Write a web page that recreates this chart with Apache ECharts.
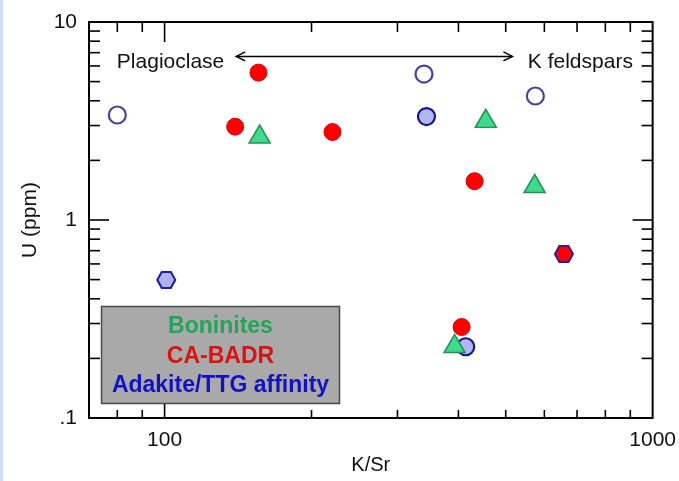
<!DOCTYPE html>
<html>
<head>
<meta charset="utf-8">
<script src="https://cdn.jsdelivr.net/npm/echarts@6/dist/echarts.min.js"></script>
<style>
  html, body { margin: 0; padding: 0; background: #ffffff; }
  #chart { position: absolute; left: 0; top: 0; width: 679px; height: 481px; }
  #band { position: absolute; left: 0; top: 0; width: 3px; height: 481px; background: #d3dff6; }
</style>
</head>
<body>
<div id="chart"></div>
<div id="band"></div>
<script>
// K/Sr (x) versus U in ppm (y), both on log scales
const boninites      = [[156.6, 2.72], [455, 3.26], [573, 1.53], [392.8, 0.238]];
const caBadr         = [[155.7, 5.55], [139.5, 2.96], [220.8, 2.78], [431.7, 1.57], [406, 0.288]];
const caBadrHex      = [[658, 0.673]];
const adakiteOpen    = [[80, 3.39], [340, 5.46], [575, 4.23]];
const adakiteFilled  = [[344, 3.33], [414, 0.229]];
const adakiteHex     = [[100.8, 0.498]];

// axis ranges and tick values
const xRange = [70, 1000];
const yRange = [0.1, 10];
const xMajorTicks = [100];
const xMinorTicks = [80, 90, 200, 300, 400, 500, 600, 700, 800, 900];
const yMajorTicks = [1];
const yMinorTicks = [0.2, 0.3, 0.4, 0.5, 0.6, 0.7, 0.8, 0.9, 2, 3, 4, 5, 6, 7, 8, 9];
const xTickValues = [100, 1000];
const xTickTexts  = ['100', '1000'];
const yTickValues = [0.1, 1, 10];
const yTickTexts  = ['.1', '1', '10'];

// legend lines and annotation
const legendNames  = ['Boninites', 'CA-BADR', 'Adakite/TTG affinity'];
const legendColors = ['#22a55a', '#dd1111', '#1212c4'];
const arrowFrom = [140.2, 6.7];
const arrowTo   = [516, 6.7];
const leftNote  = { text: 'Plagioclase', at: [132.5, 6.28] };
const rightNote = { text: 'K feldspars', at: [555, 6.28] };

const FONT = '"Liberation Sans", Arial, sans-serif';
const HEX = 'path://M0,8.66 L5,0 L15,0 L20,8.66 L15,17.32 L5,17.32 Z';

function pickLabel(values, texts) {
  return function (v) {
    for (let i = 0; i < values.length; i++) {
      if (Math.abs(v - values[i]) / values[i] < 1e-6) return texts[i];
    }
    return '';
  };
}

// tick marks: [value, value, kind (0 = x, 1 = y), major flag]
const tickData = []
  .concat(xMajorTicks.map(v => [v, 1, 0, 1]))
  .concat(xMinorTicks.map(v => [v, 1, 0, 0]))
  .concat(yMajorTicks.map(v => [100, v, 1, 1]))
  .concat(yMinorTicks.map(v => [100, v, 1, 0]));

function renderTick(params, api) {
  const cs = params.coordSys;
  const kind = api.value(2);
  const major = api.value(3) === 1;
  const p = api.coord([api.value(0), api.value(1)]);
  const style = { stroke: '#000', lineWidth: 1.6 };
  const kids = [];
  if (kind === 0) {
    const x = p[0];
    const lb = major ? 14 : 8, lt = major ? 20 : 10;
    kids.push({ type: 'line', shape: { x1: x, y1: cs.y + cs.height, x2: x, y2: cs.y + cs.height - lb }, style });
    kids.push({ type: 'line', shape: { x1: x, y1: cs.y, x2: x, y2: cs.y + lt }, style });
  } else {
    const y = p[1];
    const l = major ? 20 : 11;
    kids.push({ type: 'line', shape: { x1: cs.x, y1: y, x2: cs.x + l, y2: y }, style });
    kids.push({ type: 'line', shape: { x1: cs.x + cs.width, y1: y, x2: cs.x + cs.width - l, y2: y }, style });
  }
  return { type: 'group', children: kids };
}

const chart = echarts.init(document.getElementById('chart'), null, { renderer: 'canvas' });

chart.setOption({
  animation: false,
  backgroundColor: '#ffffff',
  textStyle: { fontFamily: FONT },
  grid: {
    left: 89, right: 23, top: 22, bottom: 63,
    show: true, borderColor: '#000', borderWidth: 2, backgroundColor: 'rgba(0,0,0,0)'
  },
  xAxis: {
    type: 'log', logBase: 10, min: xRange[0], max: xRange[1],
    axisLine: { show: false }, axisTick: { show: false }, splitLine: { show: false },
    axisLabel: { formatter: pickLabel(xTickValues, xTickTexts), fontSize: 21, color: '#111', margin: 12, fontFamily: FONT },
    name: 'K/Sr', nameLocation: 'middle', nameGap: 37,
    nameTextStyle: { fontSize: 20, color: '#111', fontFamily: FONT }
  },
  yAxis: {
    type: 'log', logBase: 10, min: yRange[0], max: yRange[1],
    axisLine: { show: false }, axisTick: { show: false }, splitLine: { show: false },
    axisLabel: { formatter: pickLabel(yTickValues, yTickTexts), fontSize: 21, color: '#111', margin: 12, fontFamily: FONT },
    name: 'U (ppm)', nameLocation: 'middle', nameGap: 48, nameRotate: 90,
    nameTextStyle: { fontSize: 21, color: '#111', fontFamily: FONT }
  },
  series: [
    {
      type: 'custom', name: 'ticks', data: tickData, renderItem: renderTick,
      clip: false, silent: true, z: 5
    },
    {
      type: 'scatter', name: 'Adakite/TTG affinity', data: adakiteOpen,
      symbol: 'circle', symbolSize: 17, z: 2,
      itemStyle: { color: 'rgba(255,255,255,0)', borderColor: '#14148e', borderWidth: 2.2 }
    },
    {
      type: 'scatter', name: 'Adakite/TTG affinity (filled)', data: adakiteFilled,
      symbol: 'circle', symbolSize: 17, z: 2,
      itemStyle: { color: '#b4b7ef', borderColor: '#14148e', borderWidth: 2.2, opacity: 1 }
    },
    {
      type: 'scatter', name: 'Adakite/TTG affinity (hexagon)', data: adakiteHex,
      symbol: HEX, symbolSize: [18, 16], z: 2,
      itemStyle: { color: '#aeb2f2', borderColor: '#1e1ea0', borderWidth: 2, opacity: 1 }
    },
    {
      type: 'scatter', name: 'Boninites', data: boninites,
      symbol: 'triangle', symbolSize: [21, 18], z: 3,
      itemStyle: { color: '#40d98f', borderColor: '#1d9450', borderWidth: 1.5, opacity: 1 }
    },
    {
      type: 'scatter', name: 'CA-BADR', data: caBadr,
      symbol: 'circle', symbolSize: 17, z: 4,
      itemStyle: { color: '#ff0000', borderColor: '#e00000', borderWidth: 1, opacity: 1 }
    },
    {
      type: 'scatter', name: 'CA-BADR (hexagon)', data: caBadrHex,
      symbol: HEX, symbolSize: [18, 16], z: 4,
      itemStyle: { color: '#ff0000', borderColor: '#3a1a8c', borderWidth: 2, opacity: 1 }
    }
  ]
});

// annotation arrow, notes and the text legend box, placed from data coordinates
const a = chart.convertToPixel({ gridIndex: 0 }, arrowFrom);
const b = chart.convertToPixel({ gridIndex: 0 }, arrowTo);
const ln = chart.convertToPixel({ gridIndex: 0 }, leftNote.at);
const rn = chart.convertToPixel({ gridIndex: 0 }, rightNote.at);
const grid = chart.getModel().getComponent('grid').coordinateSystem.getRect();

const headStyle = { stroke: '#000', lineWidth: 1.5, fill: null };
const boxX = grid.x + 12.5, boxY = grid.y + grid.height - 111.5, boxW = 238, boxH = 97;

chart.setOption({
  graphic: [
    { type: 'line', shape: { x1: a[0], y1: a[1], x2: b[0], y2: b[1] }, style: { stroke: '#000', lineWidth: 1.4 }, z: 10 },
    { type: 'polyline', shape: { points: [[a[0] + 9, a[1] - 4.5], [a[0], a[1]], [a[0] + 9, a[1] + 4.5]] }, style: headStyle, z: 10 },
    { type: 'polyline', shape: { points: [[b[0] - 9, b[1] - 4.5], [b[0], b[1]], [b[0] - 9, b[1] + 4.5]] }, style: headStyle, z: 10 },
    { type: 'text', x: ln[0], y: ln[1], style: { text: leftNote.text, fill: '#111', font: '21px ' + FONT, textAlign: 'right', textVerticalAlign: 'middle' }, z: 10 },
    { type: 'text', x: rn[0], y: rn[1], style: { text: rightNote.text, fill: '#111', font: '21px ' + FONT, textAlign: 'left', textVerticalAlign: 'middle' }, z: 10 },
    { type: 'rect', shape: { x: boxX, y: boxY, width: boxW, height: boxH }, style: { fill: '#a9a9a9', stroke: '#4a4a4a', lineWidth: 1.5 }, z: 20 },
    ...legendNames.map((name, i) => ({
      type: 'text', x: boxX + boxW / 2, y: boxY + 20.5 + i * 29.5, z: 21,
      style: { text: name, fill: legendColors[i], font: 'bold 23px ' + FONT, textAlign: 'center', textVerticalAlign: 'middle' }
    }))
  ]
});
</script>
</body>
</html>
